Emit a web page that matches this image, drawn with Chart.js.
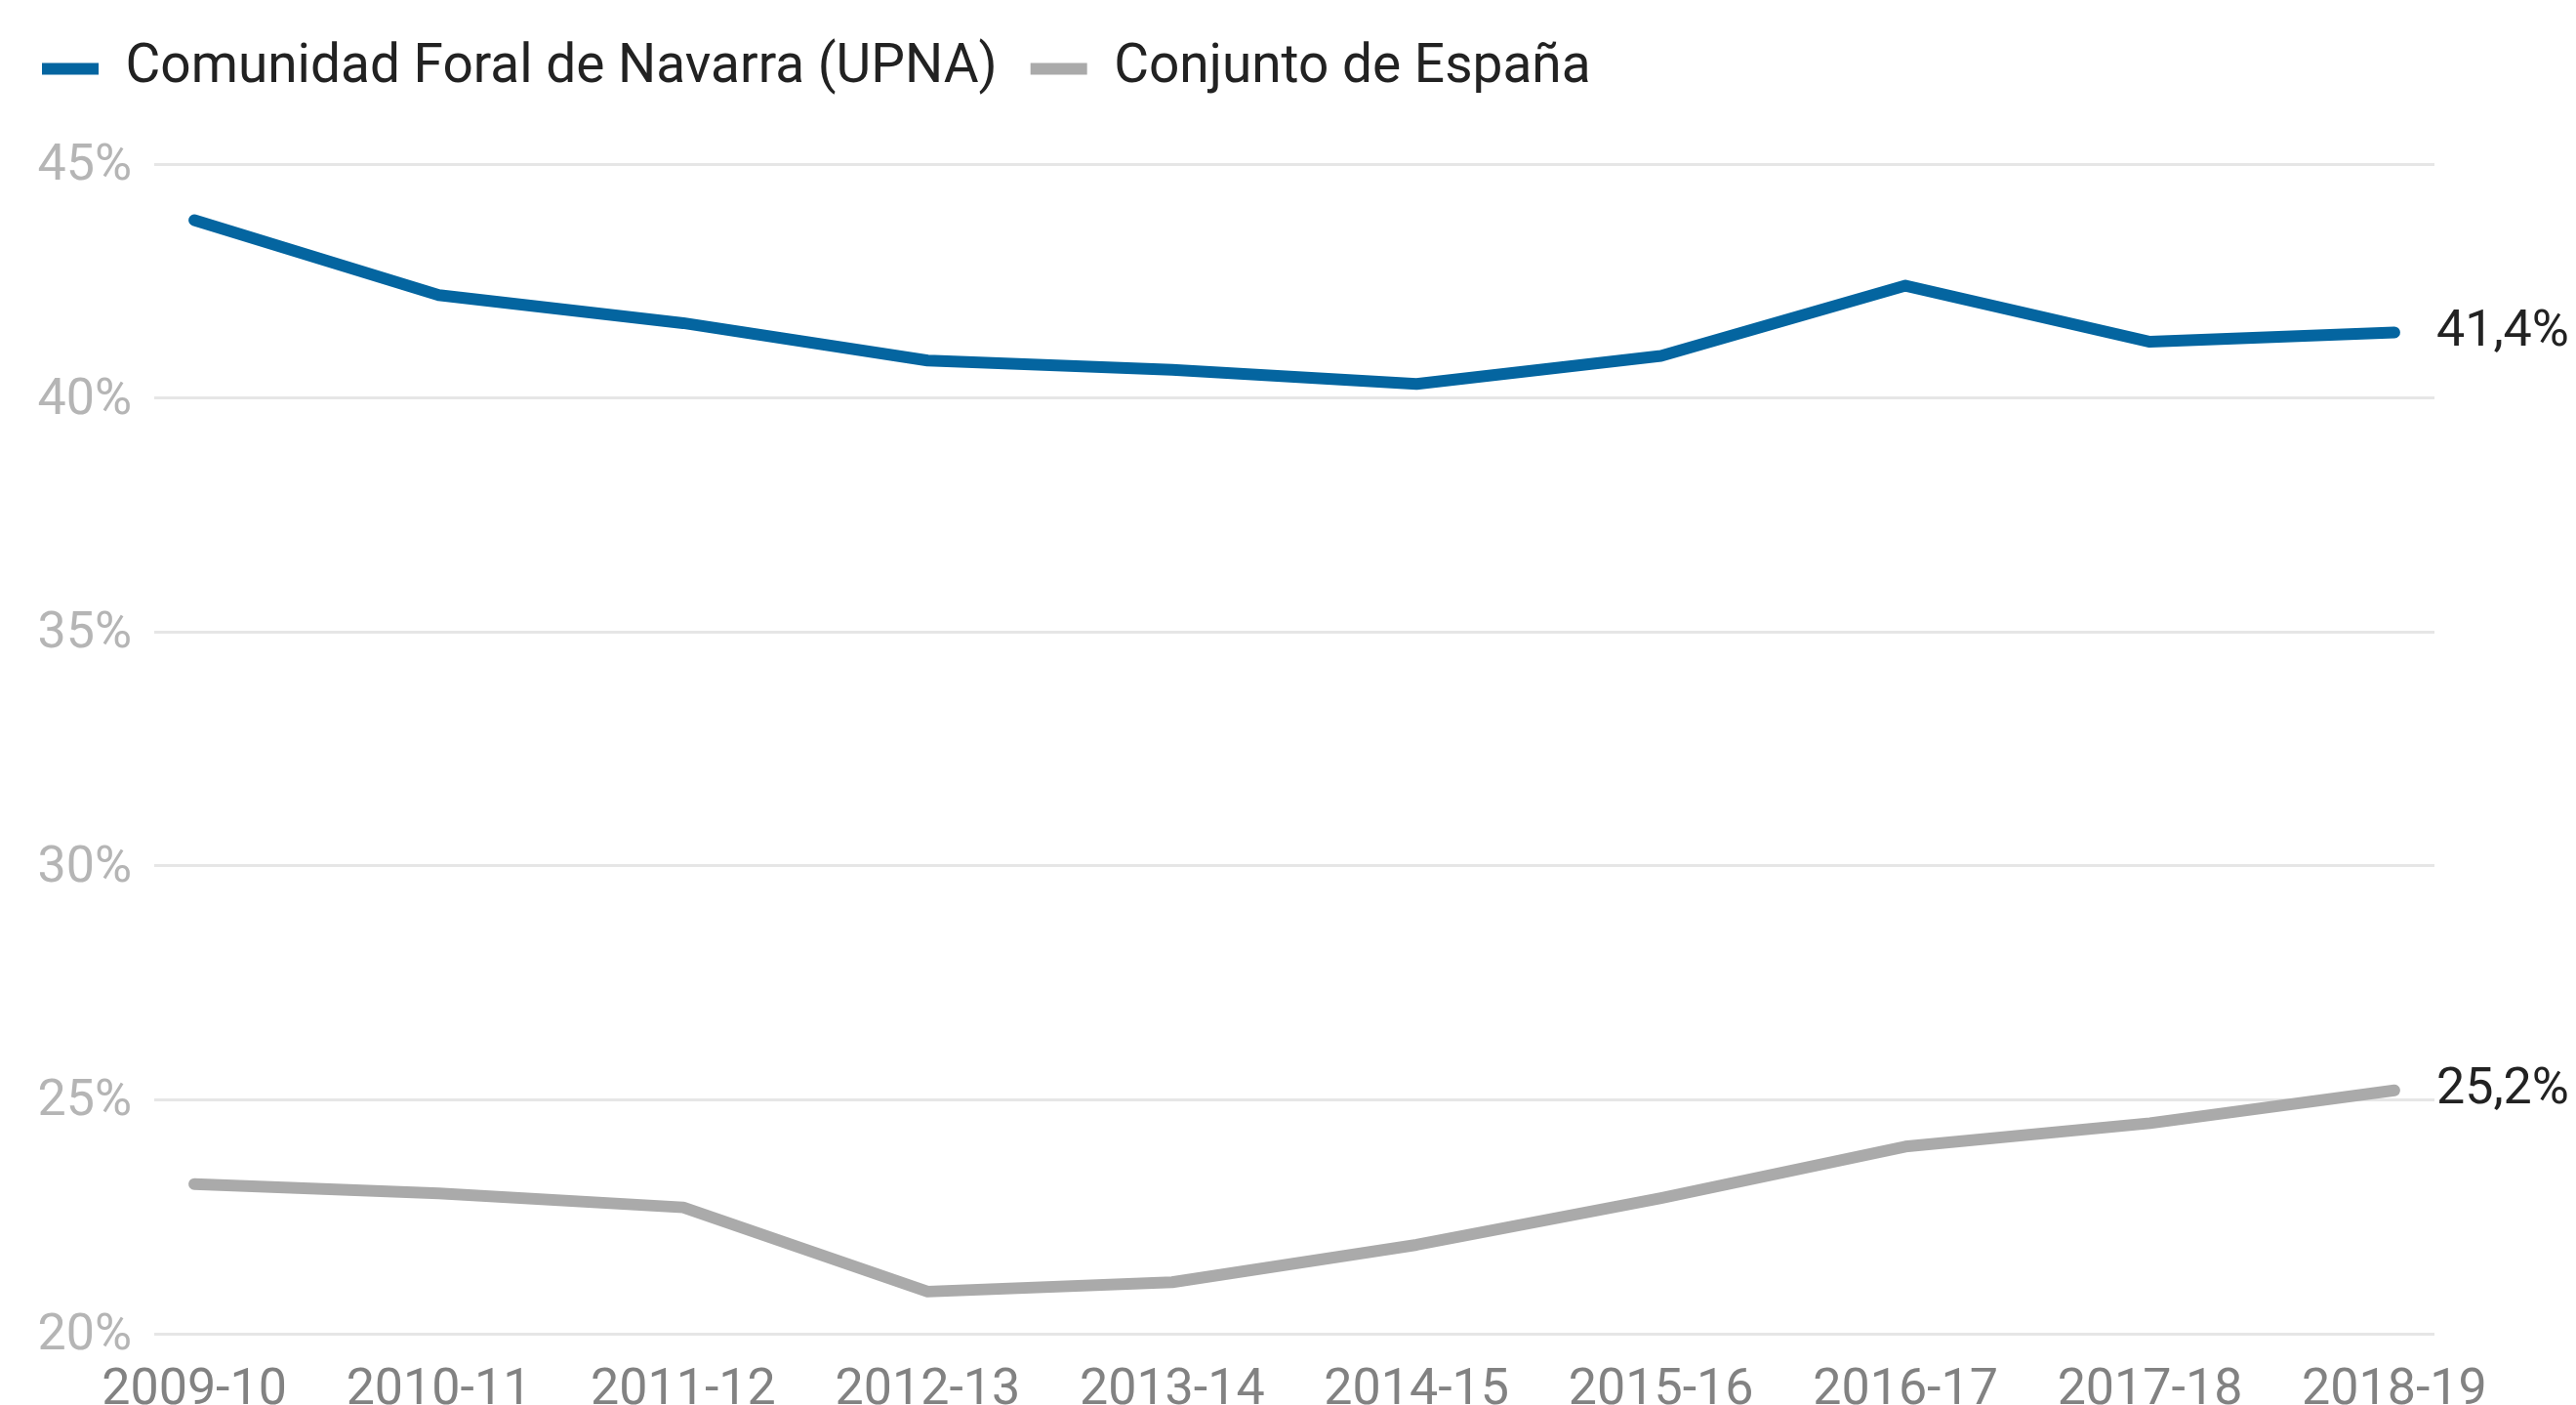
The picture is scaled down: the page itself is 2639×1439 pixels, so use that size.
<!DOCTYPE html>
<html>
<head>
<meta charset="utf-8">
<script src="https://cdn.jsdelivr.net/npm/chart.js@4.4.1/dist/chart.umd.min.js"></script>
<style>
  html, body { margin: 0; padding: 0; background: #ffffff; }
  #wrap { width: 2639px; height: 1439px; position: relative; }
</style>
</head>
<body>
<div id="wrap"><canvas id="c"></canvas></div>
<script>
const categories = ['2009-10','2010-11','2011-12','2012-13','2013-14','2014-15','2015-16','2016-17','2017-18','2018-19'];
const navarra = [43.8, 42.2, 41.6, 40.8, 40.6, 40.3, 40.9, 42.4, 41.2, 41.4];
const espana = [23.2, 23.0, 22.7, 20.9, 21.1, 21.9, 22.9, 24.0, 24.5, 25.2];
const seriesNames = ['Comunidad Foral de Navarra (UPNA)', 'Conjunto de España'];
const yTicks = [20, 25, 30, 35, 40, 45];

const FONT = 'Roboto';
const LEGEND_HEIGHT = 159;

// Keep the legend block tall enough so the plot starts where the reference's does
const legendSpace = {
  id: 'legendSpace',
  beforeLayout(chart) {
    const lg = chart.legend;
    if (lg && !lg._spacePatched) {
      const origFit = lg.fit.bind(lg);
      lg.fit = function () { origFit(); this.height = LEGEND_HEIGHT; };
      lg._spacePatched = true;
    }
  }
};

const endLabels = {
  id: 'endLabels',
  afterDatasetsDraw(chart) {
    const ctx = chart.ctx;
    ctx.save();
    ctx.font = '52px ' + FONT;
    ctx.fillStyle = '#222222';
    ctx.textAlign = 'left';
    ctx.textBaseline = 'middle';
    chart.data.datasets.forEach((ds, i) => {
      const meta = chart.getDatasetMeta(i);
      const pt = meta.data[meta.data.length - 1];
      const v = ds.data[ds.data.length - 1].y;
      ctx.fillText(v.toFixed(1).replace('.', ',') + '%', pt.x + 43, pt.y);
    });
    ctx.restore();
  }
};

new Chart(document.getElementById('c'), {
  type: 'line',
  data: {
    datasets: [
      {
        label: seriesNames[0],
        data: navarra.map((v, i) => ({ x: i, y: v })),
        borderColor: '#0465a0',
        backgroundColor: '#0465a0',
        borderWidth: 12,
        borderCapStyle: 'round',
        borderJoinStyle: 'round',
        pointRadius: 0,
        tension: 0
      },
      {
        label: seriesNames[1],
        data: espana.map((v, i) => ({ x: i, y: v })),
        borderColor: '#aaaaaa',
        backgroundColor: '#aaaaaa',
        borderWidth: 12,
        borderCapStyle: 'round',
        borderJoinStyle: 'round',
        pointRadius: 0,
        tension: 0
      }
    ]
  },
  options: {
    responsive: true,
    maintainAspectRatio: false,
    animation: false,
    layout: { padding: { top: 9, left: 9, right: 145, bottom: 0 } },
    plugins: {
      legend: {
        position: 'top',
        align: 'start',
        labels: {
          usePointStyle: true,
          pointStyle: 'line',
          pointStyleWidth: 58,
          padding: 34,
          color: '#222222',
          font: { family: FONT, size: 55 }
        }
      },
      tooltip: { enabled: false }
    },
    scales: {
      x: {
        type: 'linear',
        min: -0.164,
        max: 9.164,
        grid: { display: false, drawTicks: false },
        border: { display: false },
        ticks: {
          stepSize: 1,
          includeBounds: false,
          autoSkip: false,
          maxRotation: 0,
          padding: 28,
          color: '#828282',
          font: { family: FONT, size: 52 },
          callback: (v) => Number.isInteger(v) ? categories[v] : ''
        },
        afterFit: (s) => { s.height = 73; }
      },
      y: {
        min: yTicks[0],
        max: yTicks[yTicks.length - 1],
        grid: { color: '#e6e6e6', lineWidth: 3, drawTicks: false },
        border: { display: false },
        afterBuildTicks: (s) => { s.ticks = yTicks.map(v => ({ value: v })); },
        ticks: {
          padding: 23,
          labelOffset: 3,
          color: '#b5b5b5',
          font: { family: FONT, size: 52 },
          callback: (v) => v + '%'
        },
        afterFit: (s) => { s.width = 149; }
      }
    }
  },
  plugins: [legendSpace, endLabels]
});
</script>
</body>
</html>
